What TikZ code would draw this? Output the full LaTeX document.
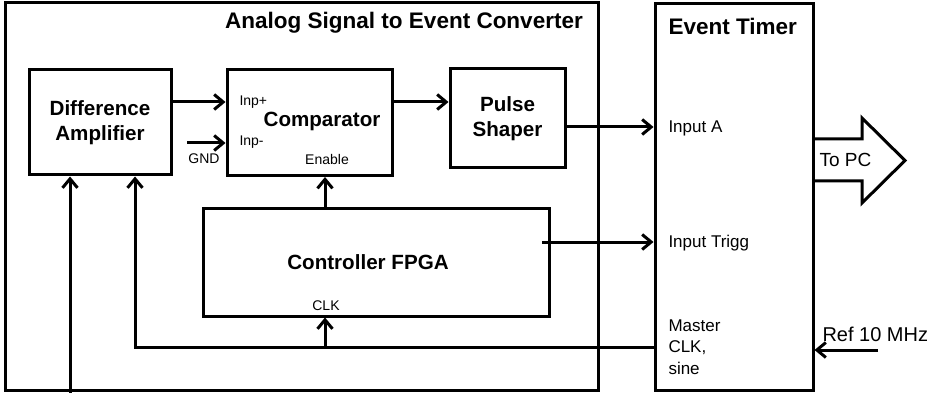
\documentclass[tikz,border=0pt]{standalone}
\usepackage{fontspec}
\setmainfont{Liberation Sans}
\usetikzlibrary{arrows.meta}
\begin{document}
\begin{tikzpicture}[x=1pt,y=-1pt,line width=3pt,
  frame/.style={draw,line width=3pt,inner sep=0pt,line join=miter},
  bold/.style={font=\bfseries\fontsize{20.6}{24.5}\selectfont,inner sep=0pt,align=center},
  big/.style={font=\bfseries\fontsize{22.5}{26}\selectfont,inner sep=0pt},
  small/.style={font=\fontsize{14}{16}\selectfont,inner sep=0pt},
  lab/.style={font=\fontsize{17}{21}\selectfont,inner sep=0pt,anchor=west,align=left},
  arr/.style={line width=3pt,-{Straight Barb[length=9pt,width=15pt,line width=3pt]}}]
\useasboundingbox (0,0) rectangle (927,393);
% frames
\node[frame,minimum width=593pt,minimum height=387pt] (asec) at (301.5,196.5) {};
\node[big] (asectitle) at (404,23) {Analog Signal to Event Converter};
\node[frame,minimum width=158pt,minimum height=386pt] (et) at (734,197) {};
\node[big,anchor=west] (ettitle) at (667,26) {Event Timer};
% blocks
\node[frame,bold,minimum width=142pt,minimum height=105pt] (diff) at (100,122.5) {Difference\\Amplifier};
\node[frame,minimum width=165pt,minimum height=106pt] (comp) at (309.5,122.5) {};
\node[bold] (comptext) at (322,121) {Comparator};
\node[small,anchor=west] (inpp) at (238,102) {Inp+};
\node[small,anchor=west] (inpm) at (238,142) {Inp-};
\node[small] (enable) at (327,159) {Enable};
\node[frame,bold,minimum width=115pt,minimum height=99pt] (pulse) at (507.5,118.5) {Pulse\\Shaper};
\node[frame,minimum width=346pt,minimum height=107pt] (fpga) at (376,262.5) {};
\node[bold] (fpgatext) at (368,262) {Controller FPGA};
\node[small] (clk) at (326,306) {CLK};
\node[small] (gnd) at (204,159) {GND};
% event timer labels
\node[lab] (ina) at (667,128) {Input A};
\node[lab] (intrig) at (667,243) {Input Trigg};
\node[lab,font=\fontsize{17}{21.5}\selectfont] (master) at (667,347) {Master\\CLK,\\sine};
\node[lab,font=\fontsize{20}{22}\selectfont] (ref) at (821,334) {Ref 10 MHz};
\node[lab,font=\fontsize{19}{22}\selectfont] (topc) at (818,160) {To PC};
% coordinates
\coordinate (yp) at (0,102);
\coordinate (ym) at (0,143);
\coordinate (gndstart) at (187,143);
\coordinate (ya) at (0,127);
\coordinate (yt) at (0,242);
\coordinate (trigstart) at (542,242);
\coordinate (clkturn) at (135,347);
\coordinate (clkbr) at (325,347);
\coordinate (sigin) at (70,393);
\coordinate (refstart) at (878,350);
% connectors
\draw[arr] (diff.east |- yp) -- (comp.west |- yp);
\draw[arr] (gndstart) -- (comp.west |- ym);
\draw[arr] (comp.east |- yp) -- (pulse.west |- yp);
\draw[arr] (pulse.east |- ya) -- (et.west |- ya);
\draw[arr] (trigstart) -- (et.west |- yt);
\draw[arr] (et.west |- clkturn) -- (clkturn) -- (clkturn |- diff.south);
\draw[arr] (clkbr) -- (clkbr |- fpga.south);
\draw[arr] (clkbr |- fpga.north) -- (clkbr |- comp.south);
\draw[arr] (sigin) -- (sigin |- diff.south);
\draw[arr] (refstart) -- (et.east |- refstart);
% To PC arrow
\draw[line width=3pt,line join=miter] (et.east |- 0,139) -- (862,139) -- (862,118) -- (905,160.5) -- (862,203) -- (862,181) -- (et.east |- 0,181);
\end{tikzpicture}
\end{document}
